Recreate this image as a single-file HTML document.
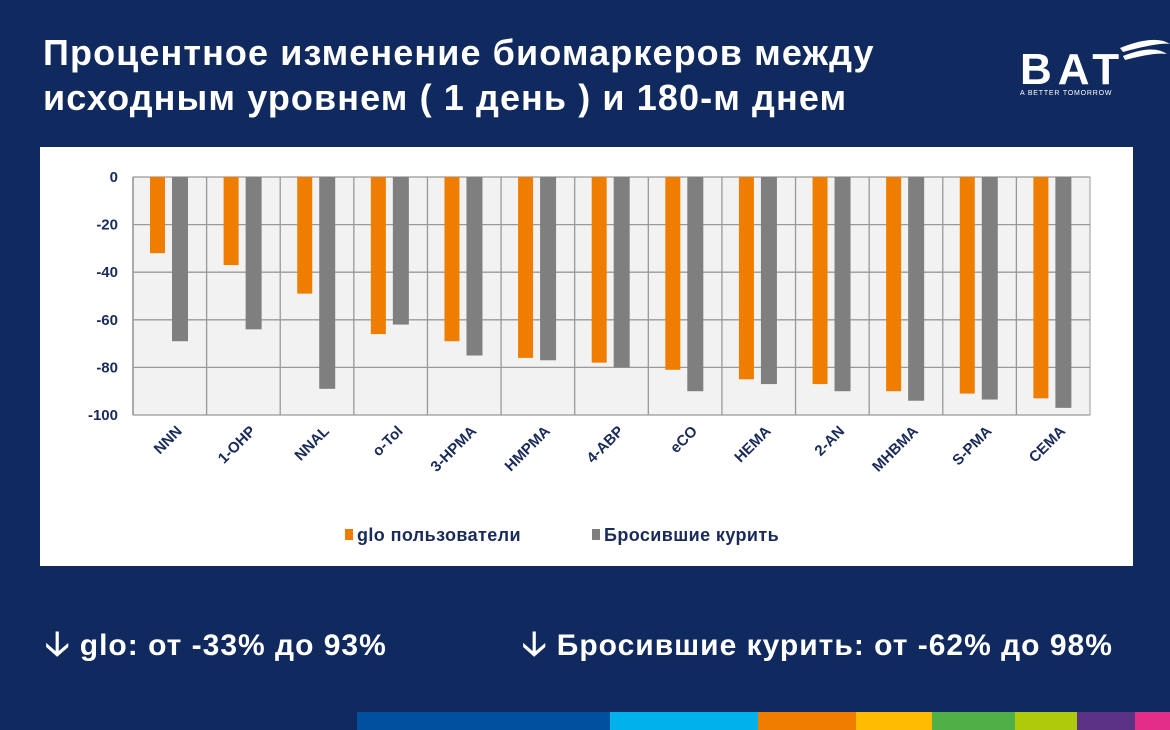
<!DOCTYPE html>
<html><head><meta charset="utf-8"><style>
body{margin:0;width:1170px;height:730px;background:#102a5f;overflow:hidden;position:relative;font-family:"Liberation Sans","DejaVu Sans",sans-serif;}
.title{position:absolute;left:43px;top:30px;color:#fff;font-size:36px;font-weight:bold;line-height:45px;letter-spacing:1.1px;}
.card{position:absolute;left:40px;top:147px;width:1093px;height:419px;background:#fff;}
.note{position:absolute;top:620px;color:#fff;font-size:30px;font-weight:bold;letter-spacing:1px;}
.stripe{position:absolute;top:712px;height:18px;}
</style></head><body>
<div class="title">Процентное изменение биомаркеров между<br>исходным уровнем ( 1 день ) и 180-м днем</div>
<div style="position:absolute;left:1020px;top:50px;color:#fff;">
<div style="font-size:44px;font-weight:bold;letter-spacing:6px;line-height:40px;">BAT</div>
<div style="font-size:7px;letter-spacing:0.8px;">A BETTER TOMORROW</div>
<svg style="position:absolute;left:95px;top:-14px" width="60" height="40"><path d="M5 12 Q40 -2 55 8 Q45 6 8 16Z M8 20 Q38 8 52 18 Q40 16 10 24Z" fill="#fff"/></svg>
</div>
<div class="card"></div>
<svg id="chart" width="1170" height="730" style="position:absolute;left:0;top:0"></svg>
<div class="note" style="left:45px"><span style="font-size:34px">🡣</span> glo: от -33% до 93%</div>
<div class="note" style="left:522px"><span style="font-size:34px">🡣</span> Бросившие курить: от -62% до 98%</div>
<div>
<div class="stripe" style="left:357px;width:253px;background:#0050a0"></div>
<div class="stripe" style="left:610px;width:148px;background:#00b1eb"></div>
<div class="stripe" style="left:758px;width:98px;background:#ef7d00"></div>
<div class="stripe" style="left:856px;width:76px;background:#ffbb00"></div>
<div class="stripe" style="left:932px;width:83px;background:#50af47"></div>
<div class="stripe" style="left:1015px;width:62px;background:#afca0b"></div>
<div class="stripe" style="left:1077px;width:58px;background:#5a3286"></div>
<div class="stripe" style="left:1135px;width:35px;background:#e42d89"></div>
</div>
<script>
const categories=["NNN","1-OHP","NNAL","o-Tol","3-HPMA","HMPMA","4-ABP","eCO","HEMA","2-AN","MHBMA","S-PMA","CEMA"];
const gloValues=[-32,-37,-49,-66,-69,-76,-78,-81,-85,-87,-90,-91,-93];
const quitValues=[-69,-64,-89,-62,-75,-77,-80,-90,-87,-90,-94,-93.5,-97];
const yTicks=[0,-20,-40,-60,-80,-100];
const seriesNames=["glo пользователи","Бросившие курить"];
const NS="http://www.w3.org/2000/svg";
const svg=document.getElementById("chart");
const L=133,R=1090,T=177,B=415;
const cw=(R-L)/categories.length;
const y=v=>T+(0-v)/100*(B-T);
const x=i=>L+i*cw;
function mk(t,a){const e=document.createElementNS(NS,t);for(const k in a)e.setAttribute(k,a[k]);svg.appendChild(e);return e;}
let bg=mk("rect",{x:L,y:T,width:R-L,height:B-T,fill:"#f2f2f2",stroke:"#999"});


yTicks.forEach(t=>{
 let g=mk("line",{x1:L,x2:R,y1:y(t),y2:y(t),stroke:"#999","stroke-width":1.3});
 
 
 let tx=mk("text",{x:L-15,y:y(t)+5,"text-anchor":"end","font-size":15,"font-weight":"bold",fill:"#1a2b5a"});
 tx.textContent=t;
 
 
});
categories.forEach((c,i)=>{
 let v=mk("line",{x1:x(i),x2:x(i),y1:T,y2:B,stroke:"#999","stroke-width":1.3});
 
 
 let b1=mk("rect",{x:x(i)+17,y:T,width:15,height:y(gloValues[i])-T,fill:"#ef7d00"});
 
 
 let b2=mk("rect",{x:x(i)+39,y:T,width:16,height:y(quitValues[i])-T,fill:"#7f7f7f"});
 
 
 const cx=x(i)+cw/2+13, cy=432;
 let tl=mk("text",{x:cx,y:cy,"text-anchor":"end","font-size":15,"font-weight":"bold",fill:"#1a2b5a",transform:`rotate(-45 ${cx} ${cy})`});
 tl.textContent=c;
 
 
});
mk("line",{x1:L,x2:L,y1:T,y2:B,stroke:"#999","stroke-width":1.5});
const legX=[345,592],legC=["#ef7d00","#7f7f7f"];
seriesNames.forEach((n,i)=>{
 let s=mk("rect",{x:legX[i],y:529,width:8,height:11,fill:legC[i]});
 
 
 let t=mk("text",{x:legX[i]+12,y:541,"font-size":18,"font-weight":"bold",fill:"#1a2b5a","letter-spacing":0.4});
 t.textContent=n;
 
 
});
</script>
</body></html>
